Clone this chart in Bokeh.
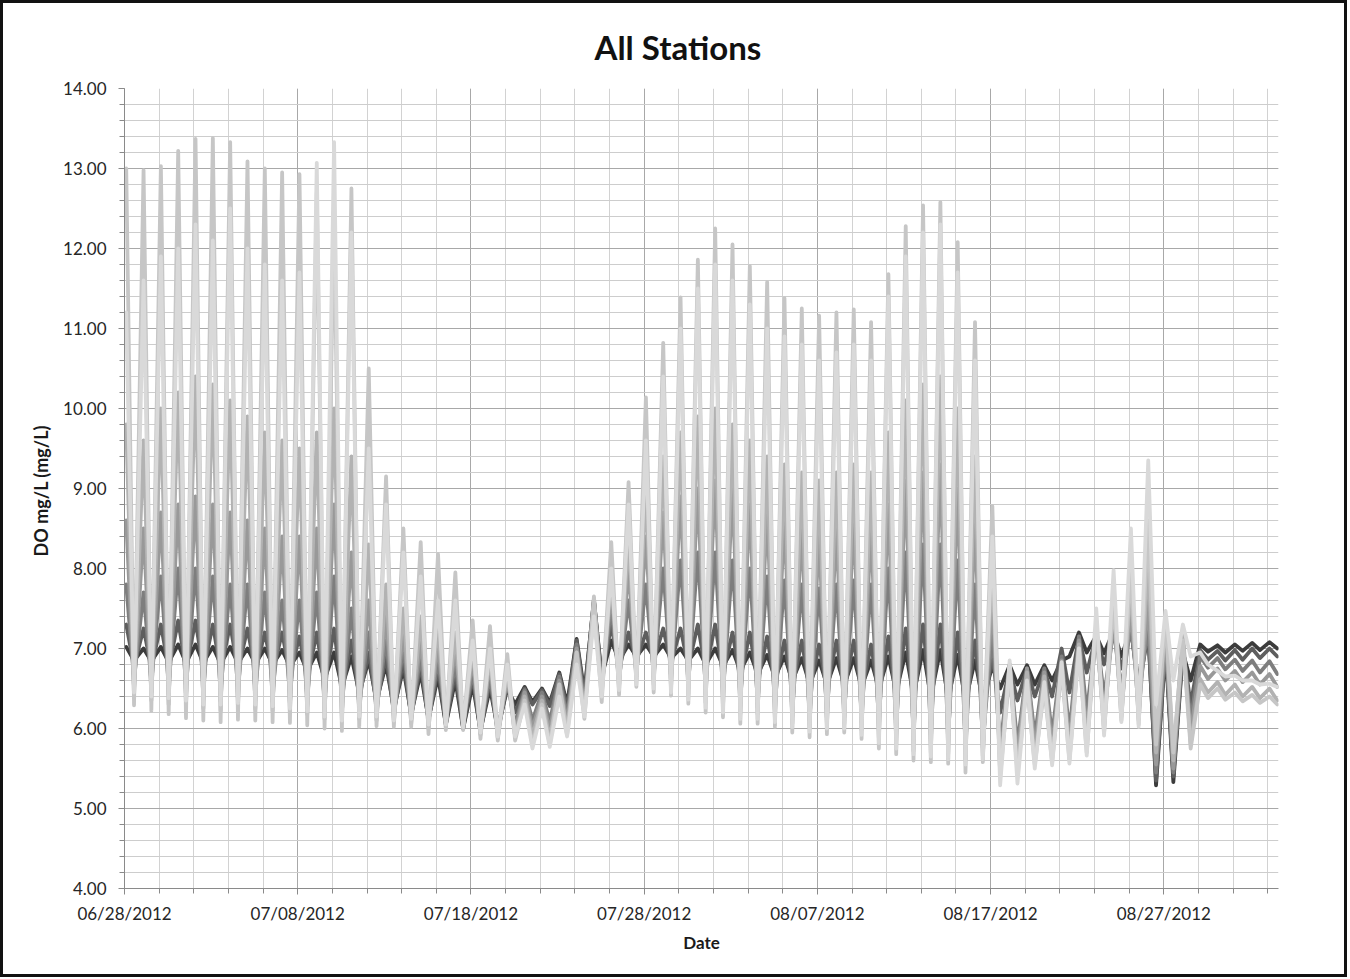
import numpy as np
from datetime import datetime
from bokeh.plotting import figure
from bokeh.models import FixedTicker, PrintfTickFormatter, DatetimeTickFormatter, Range1d
from bokeh.embed import file_html
from bokeh.resources import INLINE

# ---------------- data ----------------
title_text = "All Stations"
x_label = "Date"
y_label = "DO mg/L  (mg/L)"

start_date = "06/28/2012"
end_offset_days = 66.62
tick_dates = ["06/28/2012", "07/08/2012", "07/18/2012", "07/28/2012",
              "08/07/2012", "08/17/2012", "08/27/2012"]
y_ticks = [4.00, 5.00, 6.00, 7.00, 8.00, 9.00, 10.00, 11.00, 12.00, 13.00, 14.00]

# day index since 06/28/2012, daily maximum (early in the day) and minimum (midday)
days = list(range(67))
peak_time = 0.10
trough_time = 0.55

station_colors = ["#3c3c3c", "#5e5e5e", "#7e7e7e", "#999999", "#b2b2b2", "#c6c6c6", "#d9d9d9"]

s1_peak = [7.02, 7.00, 7.02, 7.05, 7.05, 7.02, 7.02, 7.00, 7.00, 6.98, 6.95, 6.95, 6.95, 6.90,
           6.85, 6.80, 6.75, 6.70, 6.65, 6.60, 6.55, 6.50, 6.50,
           6.52, 6.50, 6.70, 7.12,
           7.60, 7.10, 7.05, 7.05, 7.05, 7.00, 7.00, 7.00, 6.98, 6.95, 6.92, 6.90, 6.88, 6.85, 6.88, 6.88, 6.85, 6.90, 6.95, 6.98, 6.98, 6.92, 6.85,
           6.78, 6.79, 6.79, 6.79, 6.85,
           7.20, 7.16, 7.22, 7.25, 7.20, 7.00, 6.95,
           7.05, 7.04, 7.05, 7.07, 7.08]
s1_trough = [6.85, 6.84, 6.83, 6.82, 6.82, 6.81, 6.82, 6.81, 6.80, 6.78, 6.72, 6.62, 6.52, 6.45,
             6.35, 6.25, 6.18, 6.12, 6.05, 6.00, 5.98, 6.00, 6.30,
             6.33, 6.32, 6.30, 6.45,
             6.65, 6.85, 6.90, 6.90, 6.88, 6.85, 6.80, 6.78, 6.72, 6.68, 6.64, 6.60, 6.56, 6.55, 6.55, 6.52, 6.50, 6.46, 6.42, 6.40, 6.38, 6.35, 6.35,
             6.50, 6.55, 6.55, 6.60, 6.90,
             6.95, 6.94, 6.90, 6.50, 5.29, 5.33, 6.60,
             6.96, 6.95, 6.97, 6.98, 7.00]

s2_peak = [7.30, 7.25, 7.30, 7.35, 7.35, 7.30, 7.30, 7.25, 7.20, 7.20, 7.15, 7.20, 7.25, 7.10,
           6.95, 6.90, 6.85, 6.80, 6.75, 6.70, 6.65, 6.60, 6.55,
           6.50, 6.48, 6.68, 7.10,
           7.62, 7.30, 7.20, 7.20, 7.25, 7.25, 7.30, 7.30, 7.20, 7.20, 7.15, 7.10, 7.10, 7.05, 7.10, 7.10, 7.05, 7.15, 7.25, 7.30, 7.30, 7.20, 7.10,
           6.90, 6.75, 6.75, 6.75, 7.00,
           7.15, 7.15, 7.20, 7.22, 7.20, 7.05, 7.00,
           6.98, 6.97, 6.98, 7.00, 7.00]
s2_trough = [6.78, 6.76, 6.75, 6.74, 6.72, 6.72, 6.73, 6.72, 6.70, 6.68, 6.62, 6.55, 6.45, 6.40,
             6.30, 6.20, 6.15, 6.10, 6.05, 6.00, 5.95, 5.95, 6.20,
             6.30, 6.28, 6.25, 6.40,
             6.60, 6.75, 6.85, 6.85, 6.82, 6.78, 6.72, 6.68, 6.62, 6.58, 6.55, 6.50, 6.48, 6.48, 6.48, 6.45, 6.40, 6.35, 6.30, 6.28, 6.25, 6.20, 6.20,
             6.20, 6.35, 6.40, 6.40, 6.45,
             6.70, 6.80, 6.75, 6.60, 5.35, 5.40, 6.30,
             6.86, 6.85, 6.86, 6.88, 6.90]

s3_peak = [7.80, 7.70, 7.90, 8.00, 8.00, 7.90, 7.80, 7.80, 7.70, 7.60, 7.60, 7.70, 7.90, 7.50,
           7.20, 7.10, 7.00, 6.90, 6.85, 6.80, 6.70, 6.65, 6.60,
           6.48, 6.45, 6.65, 7.05,
           7.60, 7.50, 7.60, 7.80, 8.00, 8.10, 8.20, 8.20, 8.10, 8.00, 7.90, 7.85, 7.80, 7.75, 7.80, 7.85, 7.80, 8.00, 8.20, 8.30, 8.30, 8.10, 7.80,
           7.20, 6.80, 6.75, 6.75, 6.90,
           7.15, 7.20, 7.25, 7.30, 7.30, 7.10, 7.05,
           6.90, 6.88, 6.86, 6.85, 6.84]
s3_trough = [6.62, 6.58, 6.55, 6.52, 6.50, 6.48, 6.50, 6.48, 6.46, 6.44, 6.40, 6.35, 6.32, 6.30,
             6.25, 6.20, 6.18, 6.12, 6.12, 6.08, 6.00, 5.98, 6.05,
             6.10, 6.08, 6.15, 6.30,
             6.55, 6.62, 6.70, 6.68, 6.65, 6.58, 6.50, 6.45, 6.38, 6.35, 6.30, 6.25, 6.20, 6.22, 6.22, 6.18, 6.10, 6.02, 5.95, 5.92, 5.90, 5.82, 5.85,
             5.75, 5.80, 5.90, 5.92, 5.95,
             6.20, 6.40, 6.50, 6.40, 5.45, 5.45, 6.10,
             6.76, 6.74, 6.72, 6.70, 6.68]

s4_peak = [8.60, 8.50, 8.70, 8.80, 8.90, 8.80, 8.70, 8.60, 8.50, 8.40, 8.40, 8.50, 8.80, 8.20,
           7.60, 7.40, 7.20, 7.10, 7.05, 7.00, 6.85, 6.80, 6.65,
           6.45, 6.40, 6.60, 7.00,
           7.55, 7.70, 8.00, 8.40, 8.70, 8.90, 9.00, 9.10, 9.00, 8.80, 8.70, 8.60, 8.50, 8.40, 8.50, 8.60, 8.50, 8.80, 9.10, 9.20, 9.30, 9.00, 8.60,
           7.60, 6.80, 6.75, 6.70, 6.85,
           7.10, 7.20, 7.40, 7.50, 7.60, 7.20, 7.10,
           6.78, 6.75, 6.72, 6.70, 6.68]
s4_trough = [6.50, 6.45, 6.42, 6.40, 6.36, 6.34, 6.36, 6.35, 6.33, 6.30, 6.28, 6.22, 6.20, 6.22,
             6.18, 6.15, 6.12, 6.08, 6.08, 6.05, 5.98, 5.95, 5.98,
             6.00, 5.98, 6.08, 6.25,
             6.50, 6.58, 6.65, 6.62, 6.58, 6.50, 6.42, 6.36, 6.28, 6.26, 6.20, 6.15, 6.10, 6.12, 6.14, 6.08, 6.00, 5.92, 5.85, 5.82, 5.80, 5.72, 5.76,
             5.60, 5.65, 5.75, 5.78, 5.80,
             5.95, 6.10, 6.25, 6.20, 5.55, 5.50, 5.95,
             6.62, 6.60, 6.58, 6.55, 6.52]

s5_peak = [9.80, 9.60, 10.00, 10.20, 10.40, 10.30, 10.10, 9.90, 9.70, 9.60, 9.50, 9.70, 10.00, 9.40,
           8.30, 7.80, 7.50, 7.40, 7.30, 7.20, 7.00, 6.90, 6.70,
           6.40, 6.35, 6.55, 6.95,
           7.50, 7.90, 8.40, 9.00, 9.40, 9.70, 9.90, 10.00, 9.80, 9.60, 9.40, 9.30, 9.20, 9.10, 9.20, 9.30, 9.20, 9.70, 10.10, 10.30, 10.40, 10.00, 9.40,
           8.00, 6.80, 6.70, 6.65, 6.80,
           7.05, 7.30, 7.60, 7.80, 8.10, 7.40, 7.20,
           6.62, 6.58, 6.55, 6.52, 6.50]
s5_trough = [6.40, 6.35, 6.30, 6.28, 6.25, 6.22, 6.25, 6.24, 6.22, 6.20, 6.18, 6.12, 6.10, 6.12,
             6.10, 6.08, 6.06, 6.00, 6.02, 6.00, 5.92, 5.88, 5.90,
             5.90, 5.88, 6.00, 6.20,
             6.45, 6.52, 6.60, 6.55, 6.50, 6.42, 6.32, 6.26, 6.18, 6.18, 6.12, 6.06, 6.00, 6.04, 6.05, 5.98, 5.88, 5.80, 5.72, 5.70, 5.68, 5.60, 5.66,
             5.45, 5.50, 5.62, 5.65, 5.68,
             5.80, 6.00, 6.15, 6.10, 5.70, 5.60, 5.80,
             6.45, 6.42, 6.40, 6.38, 6.35]

s6_peak = [13.00, 12.98, 13.03, 13.22, 13.37, 13.38, 13.33, 13.09, 13.00, 12.95, 12.93, 12.70, 12.40, 12.75,
           10.50, 9.15, 8.50, 8.33, 8.18, 7.95, 7.35, 7.28, 6.93,
           6.35, 6.30, 6.55, 6.95,
           7.65, 8.33, 9.08, 10.14, 10.82, 11.39, 11.86, 12.25, 12.05, 11.78, 11.58, 11.38, 11.25, 11.16, 11.20, 11.24, 11.08, 11.68, 12.28, 12.54, 12.58, 12.08, 11.08,
           8.78, 6.70, 6.55, 6.50, 6.75,
           7.00, 7.30, 7.60, 8.00, 8.60, 7.40, 7.10,
           6.55, 6.50, 6.45, 6.42, 6.40]
s6_trough = [6.29, 6.22, 6.18, 6.13, 6.10, 6.08, 6.11, 6.10, 6.08, 6.07, 6.04, 6.00, 5.97, 6.02,
             6.03, 6.02, 6.02, 5.93, 5.98, 5.98, 5.87, 5.85, 5.85,
             5.80, 5.80, 5.92, 6.12,
             6.33, 6.42, 6.52, 6.45, 6.41, 6.31, 6.20, 6.14, 6.06, 6.06, 6.02, 5.95, 5.89, 5.93, 5.95, 5.87, 5.75, 5.68, 5.60, 5.58, 5.56, 5.45, 5.58,
             5.40, 5.45, 5.55, 5.58, 5.60,
             5.70, 5.95, 6.10, 6.05, 5.80, 5.70, 5.75,
             6.38, 6.36, 6.34, 6.32, 6.30]

s7_peak = [11.20, 11.60, 11.90, 12.00, 12.30, 12.10, 12.50, 12.00, 11.80, 11.60, 11.70, 13.07, 13.33, 12.20,
           9.50, 8.80, 8.20, 7.90, 7.60, 7.60, 7.10, 7.00, 6.80,
           6.30, 6.25, 6.40, 6.80,
           7.40, 8.00, 8.80, 9.60, 10.40, 11.00, 11.50, 11.80, 11.60, 11.30, 11.00, 10.90, 10.80, 10.60, 10.70, 10.80, 10.60, 11.40, 11.90, 12.20, 12.30, 11.70, 10.60,
           8.40, 6.85, 6.60, 6.58, 6.83,
           7.00, 7.50, 7.98, 8.50, 9.35, 7.47, 7.30,
           6.95, 6.72, 6.66, 6.60, 6.56]
s7_trough = [6.45, 6.40, 6.38, 6.35, 6.30, 6.30, 6.32, 6.30, 6.28, 6.25, 6.22, 6.15, 6.10, 6.15,
             6.15, 6.10, 6.12, 6.05, 6.05, 6.02, 5.95, 5.90, 5.90,
             5.75, 5.77, 5.90, 6.15,
             6.40, 6.48, 6.55, 6.50, 6.45, 6.36, 6.26, 6.20, 6.12, 6.12, 6.08, 6.02, 5.96, 6.00, 6.00, 5.92, 5.82, 5.75, 5.68, 5.65, 5.62, 5.55, 5.62,
             5.29, 5.31, 5.50, 5.54, 5.56,
             5.66, 5.91, 6.08, 6.02, 6.30, 6.60, 6.90,
             6.80, 6.65, 6.60, 6.55, 6.52]

stations = [(s1_peak, s1_trough), (s2_peak, s2_trough), (s3_peak, s3_trough),
            (s4_peak, s4_trough), (s5_peak, s5_trough), (s6_peak, s6_trough),
            (s7_peak, s7_trough)]

for pk, tr in stations:
    assert len(pk) == len(days) and len(tr) == len(days), (len(pk), len(tr))

# ---------------- helpers ----------------
DAY_MS = 86400000.0
EPOCH = datetime(1970, 1, 1)


def to_ms(s):
    return (datetime.strptime(s, "%m/%d/%Y") - EPOCH).total_seconds() * 1000.0


start_ms = to_ms(start_date)
d = np.array(days, dtype=float)

FONT = "Lato"

p = figure(width=1347, height=977, x_axis_type="datetime",
           output_backend="svg", toolbar_location=None,
           x_range=Range1d(start_ms, start_ms + end_offset_days * DAY_MS),
           y_range=Range1d(y_ticks[0], y_ticks[-1]),
           min_border_left=121, min_border_right=72,
           min_border_top=85, min_border_bottom=92)
p.styles = {"border": "3px solid #111111"}
p.outline_line_color = None
p.background_fill_color = "white"
p.border_fill_color = "white"

# title
p.title.text = title_text
p.title.align = "left"
p.title.offset = 470
p.title.vertical_align = "top"
p.title.text_font = FONT
p.title.text_font_size = "33px"
p.title.text_font_style = "bold"
p.title.text_color = "#111111"
p.title.standoff = 40

# lines (dark stations first, light stations on top)
for (pk, tr), col in zip(stations, station_colors):
    t = np.empty(2 * len(d))
    v = np.empty(2 * len(d))
    t[0::2] = d + peak_time
    t[1::2] = d + trough_time
    v[0::2] = pk
    v[1::2] = tr
    p.line(start_ms + t * DAY_MS, v, line_color=col, line_width=3.8,
           line_join="round", line_cap="round")

# axes
major_x = [to_ms(s) for s in tick_dates]
minor_x = [start_ms + k * DAY_MS for k in range(0, 67, 2)]
p.xaxis.ticker = FixedTicker(ticks=major_x, minor_ticks=minor_x)
fmt = "%m/%d/%Y"
p.xaxis.formatter = DatetimeTickFormatter(milliseconds=fmt, seconds=fmt, minsec=fmt, minutes=fmt,
                                          hourmin=fmt, hours=fmt, days=fmt, months=fmt, years=fmt)

minor_y = [round(y_ticks[0] + 0.2 * k, 2) for k in range(int((y_ticks[-1] - y_ticks[0]) / 0.2) + 1)]
p.yaxis.ticker = FixedTicker(ticks=y_ticks, minor_ticks=minor_y)
p.yaxis.formatter = PrintfTickFormatter(format="%.2f")

for ax in (p.xaxis[0], p.yaxis[0]):
    ax.axis_line_color = "#8a8a8a"
    ax.axis_line_width = 1
    ax.major_tick_line_color = "#8a8a8a"
    ax.minor_tick_line_color = "#8a8a8a"
    ax.major_tick_in = 0
    ax.minor_tick_in = 0
    ax.major_tick_out = 6
    ax.minor_tick_out = 5
    ax.major_label_text_font = FONT
    ax.major_label_text_font_size = "17px"
    ax.major_label_text_color = "#262626"
    ax.axis_label_text_font = FONT
    ax.axis_label_text_font_style = "bold"
    ax.axis_label_text_color = "#1a1a1a"

p.xaxis.axis_label = x_label
p.yaxis.axis_label = y_label
p.xaxis.axis_label_text_font_size = "17px"
p.yaxis.axis_label_text_font_size = "18px"
p.xaxis.major_label_standoff = 8
p.xaxis.axis_label_standoff = 5
p.yaxis.major_label_standoff = 12
p.yaxis.axis_label_standoff = 8

# grid
p.xgrid.grid_line_color = "#a8a8a8"
p.xgrid.minor_grid_line_color = "#d2d2d2"
p.ygrid.grid_line_color = "#a8a8a8"
p.ygrid.minor_grid_line_color = "#cdcdcd"
p.xgrid.grid_line_width = 1
p.ygrid.grid_line_width = 1

open("out.html", "w").write(file_html(p, INLINE))
